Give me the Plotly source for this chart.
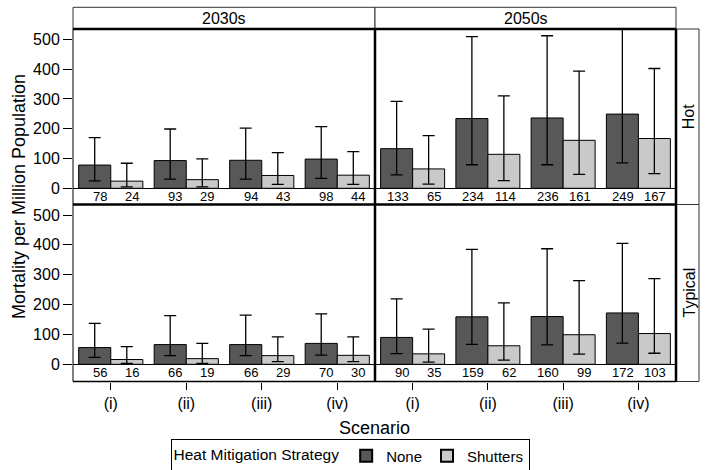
import plotly.graph_objects as go

W, H = 706, 470

scenarios = ["(i)", "(ii)", "(iii)", "(iv)"]
periods = ["2030s", "2050s"]
climates = ["Hot", "Typical"]

# Hot summer
hot_2030_none = [78, 93, 94, 98]
hot_2030_none_lo = [25, 31, 31, 33]
hot_2030_none_hi = [170, 199, 202, 207]
hot_2030_shut = [24, 29, 43, 44]
hot_2030_shut_lo = [5, 5, 13, 13]
hot_2030_shut_hi = [84, 99, 120, 123]

hot_2050_none = [133, 234, 236, 249]
hot_2050_none_lo = [45, 79, 79, 85]
hot_2050_none_hi = [292, 509, 512, 560]
hot_2050_shut = [65, 114, 161, 167]
hot_2050_shut_lo = [14, 26, 47, 49]
hot_2050_shut_hi = [177, 310, 393, 402]

# Typical summer
typ_2030_none = [56, 66, 66, 70]
typ_2030_none_lo = [23, 29, 29, 31]
typ_2030_none_hi = [137, 163, 165, 169]
typ_2030_shut = [16, 19, 29, 30]
typ_2030_shut_lo = [3, 3, 9, 9]
typ_2030_shut_hi = [59, 70, 92, 92]

typ_2050_none = [90, 159, 160, 172]
typ_2050_none_lo = [36, 67, 65, 71]
typ_2050_none_hi = [219, 385, 387, 405]
typ_2050_shut = [35, 62, 99, 103]
typ_2050_shut_lo = [7, 14, 34, 37]
typ_2050_shut_hi = [118, 206, 280, 287]

y_ticks = [0, 100, 200, 300, 400, 500]

FONT = "Liberation Sans, Arial, sans-serif"
DARK = "#585858"
LIGHT = "#c9c9c9"

def px_x(p):
    return p / W

def px_y(p):
    return 1 - p / H

# panel geometry (pixels)
XL = (73, 375, 676)
YT = (29, 204.5, 381.5)
STRIP_TOP = 7.3
RSTRIP = 699

panels = [
    (0, 0, hot_2030_none, hot_2030_none_lo, hot_2030_none_hi, hot_2030_shut, hot_2030_shut_lo, hot_2030_shut_hi),
    (0, 1, hot_2050_none, hot_2050_none_lo, hot_2050_none_hi, hot_2050_shut, hot_2050_shut_lo, hot_2050_shut_hi),
    (1, 0, typ_2030_none, typ_2030_none_lo, typ_2030_none_hi, typ_2030_shut, typ_2030_shut_lo, typ_2030_shut_hi),
    (1, 1, typ_2050_none, typ_2050_none_lo, typ_2050_none_hi, typ_2050_shut, typ_2050_shut_lo, typ_2050_shut_hi),
]
yranges = [[-54.4, 534.6], [-57.6, 535.2]]

fig = go.Figure()
annotations = []
BAR_FRAC = 0.85
half = BAR_FRAC / 2

for i, (r, c, nv, nlo, nhi, sv, slo, shi) in enumerate(panels):
    k = "" if i == 0 else str(i + 1)
    xa, ya = "x" + k, "y" + k
    for name, vals, lo, hi, col in (("None", nv, nlo, nhi, DARK), ("Shutters", sv, slo, shi, LIGHT)):
        fig.add_trace(go.Bar(
            x=scenarios, y=vals, name=name, marker=dict(color=col, line=dict(color="black", width=1)),
            error_y=dict(type="data", symmetric=False,
                         array=[h - v for h, v in zip(hi, vals)],
                         arrayminus=[v - l for l, v in zip(lo, vals)],
                         color="black", thickness=1.3, width=6),
            xaxis=xa, yaxis=ya, legendgroup=name, showlegend=(i == 0),
        ))
    for j in range(len(scenarios)):
        for vals, right_edge in ((nv, j), (sv, j + half)):
            annotations.append(dict(
                x=right_edge, y=-29, xref=xa, yref=ya, text=str(vals[j]), showarrow=False,
                xanchor="right", yanchor="middle", xshift=-2,
                font=dict(family=FONT, size=13, color="black")))
    xd = [px_x(XL[c]), px_x(XL[c + 1])]
    yd = [px_y(YT[r + 1]), px_y(YT[r])]
    fig.layout["xaxis" + k] = dict(
        domain=xd, anchor=ya, type="category", range=[-0.5, 3.5],
        showticklabels=(r == 1), ticks="outside" if r == 1 else "", ticklen=7, tickwidth=1,
        tickcolor="black", showline=False, showgrid=False, zeroline=False,
        tickfont=dict(family=FONT, size=16, color="black"),
    )
    fig.layout["yaxis" + k] = dict(
        domain=yd, anchor=xa, range=yranges[r], tickvals=y_ticks,
        showticklabels=(c == 0), ticks="outside" if c == 0 else "", ticklen=9, tickwidth=1,
        tickcolor="black", showgrid=False, zeroline=True, zerolinecolor="black", zerolinewidth=1,
        showline=False, tickfont=dict(family=FONT, size=16, color="black"),
    )

shapes = []
def text(x, y, s, size, angle=0):
    annotations.append(dict(x=px_x(x), y=px_y(y), xref="paper", yref="paper", text=s,
                            showarrow=False, xanchor="center", yanchor="middle", textangle=angle,
                            font=dict(family=FONT, size=size, color="black")))

for c, lab in enumerate(periods):
    shapes.append(dict(type="rect", xref="paper", yref="paper",
                       x0=px_x(XL[c]), x1=px_x(XL[c + 1]), y0=px_y(YT[0]), y1=px_y(STRIP_TOP),
                       line=dict(color="#333", width=1), fillcolor="white"))
    text((XL[c] + XL[c + 1]) / 2, (YT[0] + STRIP_TOP) / 2 + 0.5, lab, 16)
for r, lab in enumerate(climates):
    shapes.append(dict(type="rect", xref="paper", yref="paper",
                       x0=px_x(XL[2]), x1=px_x(RSTRIP), y0=px_y(YT[r + 1]), y1=px_y(YT[r]),
                       line=dict(color="#333", width=1), fillcolor="white"))
    text((XL[2] + RSTRIP) / 2 + 1, (YT[r] + YT[r + 1]) / 2, lab, 16, -90)

def line(x0, y0, x1, y1, w):
    shapes.append(dict(type="line", xref="paper", yref="paper",
                       x0=px_x(x0), y0=px_y(y0), x1=px_x(x1), y1=px_y(y1),
                       line=dict(color="black", width=w)))

line(XL[0], YT[0], XL[0], YT[2], 1)
line(XL[0], YT[2], XL[2], YT[2], 1.5)
line(XL[0], YT[0], XL[2], YT[0], 2.5)
line(XL[0], YT[1], XL[2], YT[1], 2.5)
line(XL[1], YT[0], XL[1], YT[2], 2.5)
line(XL[2], YT[0], XL[2], YT[2], 2.5)

text((XL[0] + XL[2]) / 2, 428, "Scenario", 18)
text(19, 197, "Mortality per Million Population", 18, -90)

fig.update_layout(
    width=W, height=H, margin=dict(l=0, r=0, t=0, b=0, autoexpand=False),
    paper_bgcolor="white", plot_bgcolor="white",
    barmode="group", bargap=1 - BAR_FRAC, bargroupgap=0,
    shapes=shapes, annotations=annotations,
    font=dict(family=FONT, color="black"),
    legend=dict(orientation="h", x=px_x(350), xanchor="center", y=px_y(456), yanchor="middle",
                title=dict(text="Heat Mitigation Strategy", side="left",
                           font=dict(family=FONT, size=15.5, color="black")),
                font=dict(family=FONT, size=15, color="black"),
                bordercolor="black", borderwidth=1, bgcolor="white",
                itemwidth=30, tracegroupgap=0, itemsizing="constant"),
)

fig.write_html("out.html", config={"displayModeBar": False},
               post_script="document.body.style.margin='0';")
